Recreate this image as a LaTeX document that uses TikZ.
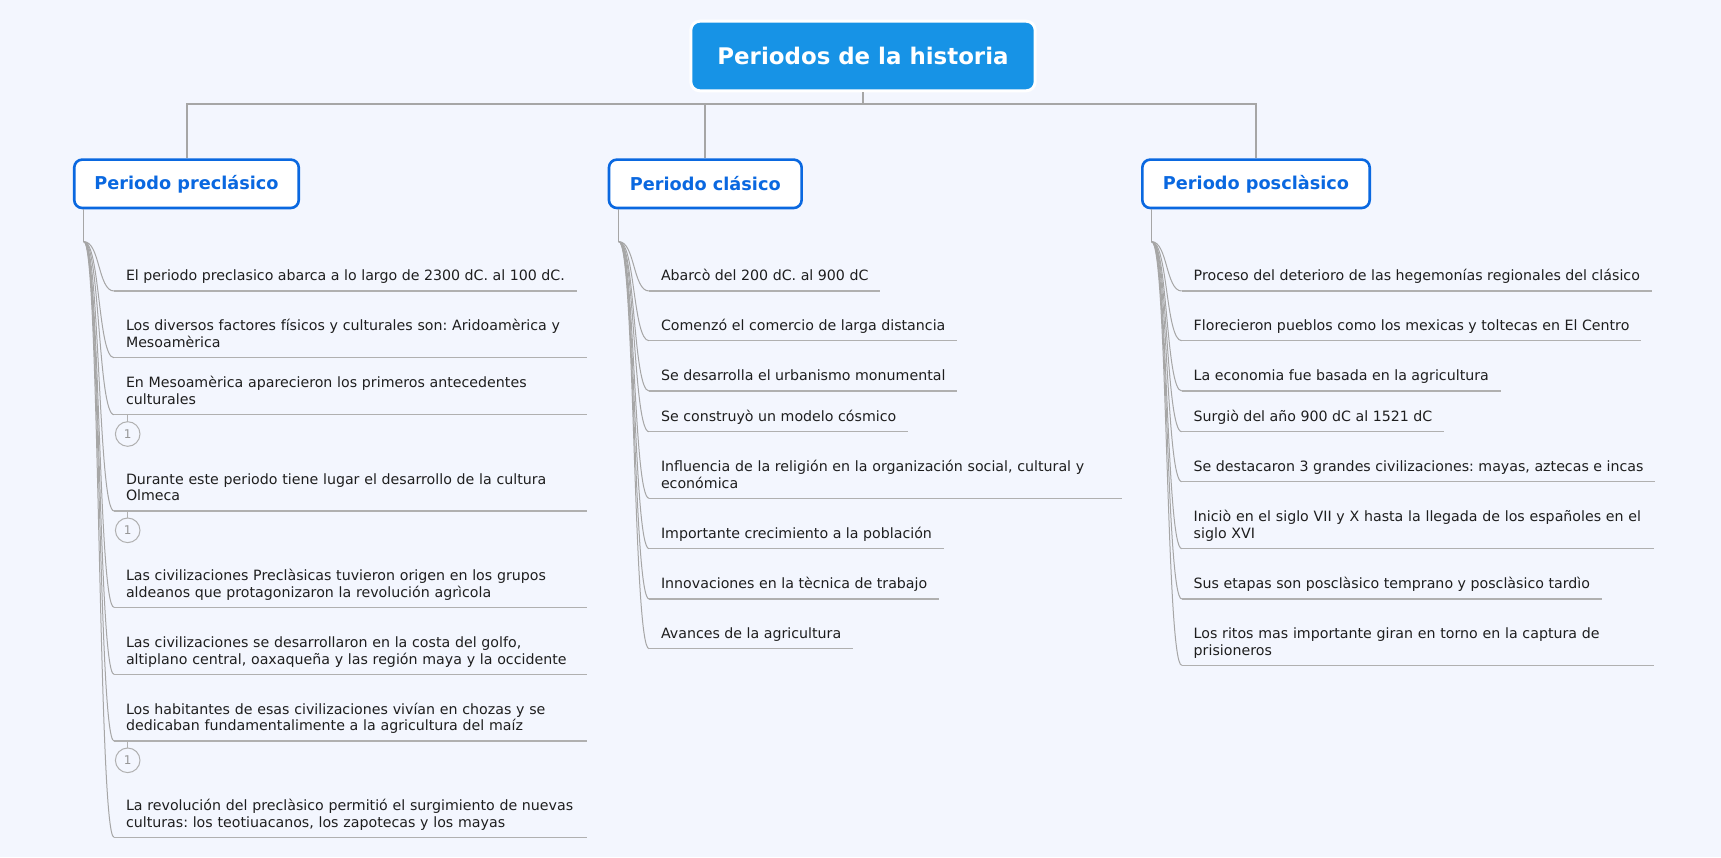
\documentclass[tikz,border=0pt]{standalone}
\usepackage{fontspec}
\setmainfont{DejaVu Sans}
\usetikzlibrary{calc}
\frenchspacing
\definecolor{bg}{RGB}{243,246,254}
\definecolor{titlefill}{RGB}{23,147,230}
\definecolor{boxblue}{RGB}{10,104,224}
\definecolor{conn}{RGB}{166,166,166}
\definecolor{leafline}{RGB}{176,176,176}
\definecolor{leaftext}{RGB}{30,30,30}
\definecolor{badgegray}{RGB}{150,150,150}
\newcommand\leafstrut{\rule[-10.3pt]{0pt}{10.3pt}}
\begin{document}
\begin{tikzpicture}[x=1pt,y=-1pt,
  titlebox/.style={fill=titlefill, draw=white, line width=3pt, rounded corners=9pt,
    minimum width=344.4pt, minimum height=69.6pt, inner sep=0pt, text=white,
    font=\fontsize{22.9}{26}\selectfont\bfseries},
  periodbox/.style={fill=white, draw=boxblue, line width=2.6pt, rounded corners=8pt,
    minimum height=48.4pt, inner sep=0pt, text=boxblue,
    font=\fontsize{17.7}{20}\selectfont\bfseries},
  mainconn/.style={draw=conn, line width=2pt},
  branch/.style={draw=conn, line width=1pt},
  leaf/.style={anchor=south west, inner xsep=12pt, inner ysep=0pt, outer sep=0pt,
    text=leaftext, font=\fontsize{14.2}{16.5}\selectfont, align=left,
    execute at end node=\leafstrut},
  wide/.style={text width=448.5pt},
  uline/.style={draw=leafline, line width=1.3pt},
  badge/.style={circle, draw=leafline, line width=1pt, minimum size=24.6pt, inner sep=0pt,
    outer sep=0pt, text=badgegray, font=\fontsize{12}{12}\selectfont},
  stem/.style={draw=leafline, line width=1pt}
]
\fill[bg] (0,0) rectangle (1721,857);
\useasboundingbox (0,0) rectangle (1721,857);

% title and periods
\node[titlebox] (title) at (863,56) {Periodos de la historia};
\node[periodbox, minimum width=224.5pt] (pre) at (186.5,183.8) {Periodo preclásico};
\node[periodbox, minimum width=192.7pt] (clas) at (705.3,183.8) {Periodo clásico};
\node[periodbox, minimum width=227.4pt] (pos) at (1256,183.8) {Periodo posclàsico};

\coordinate (hubline) at (0,104);
\draw[mainconn] (title.south) -- (title.south |- hubline) coordinate (hub);
\draw[mainconn] (hub) -| (pre.north);
\draw[mainconn] (hub) -| (clas.north);
\draw[mainconn] (hub) -| (pos.north);

% trunks
\draw[branch] ($(pre.south west)+(11,0)$) -- ++(0,32.4) coordinate (preT);
\draw[branch] ($(clas.south west)+(11.3,0)$) -- ++(0,32.4) coordinate (clasT);
\draw[branch] ($(pos.south west)+(10.7,0)$) -- ++(0,32.4) coordinate (posT);

% preclasico leaves
\node[leaf] (p1) at (114,291) {El periodo preclasico abarca a lo largo de 2300 dC. al 100 dC.};
\node[leaf,wide] (p2) at (114,357.7) {\mbox{Los diversos factores físicos y culturales son: Aridoamèrica y}\\Mesoamèrica};
\node[leaf,wide] (p3) at (114,414.7) {\mbox{En Mesoamèrica aparecieron los primeros antecedentes}\\culturales};
\node[leaf,wide] (p4) at (114,511) {\mbox{Durante este periodo tiene lugar el desarrollo de la cultura}\\Olmeca};
\node[leaf,wide] (p5) at (114,607.3) {\mbox{Las civilizaciones Preclàsicas tuvieron origen en los grupos}\\\mbox{aldeanos que protagonizaron la revolución agrìcola}};
\node[leaf,wide] (p6) at (114,674.3) {\mbox{Las civilizaciones se desarrollaron en la costa del golfo,}\\\mbox{altiplano central, oaxaqueña y las región maya y la occidente}};
\node[leaf,wide] (p7) at (114,741) {\mbox{Los habitantes de esas civilizaciones vivían en chozas y se}\\\mbox{dedicaban fundamentalimente a la agricultura del maíz}};
\node[leaf,wide] (p8) at (114,837.3) {\mbox{La revolución del preclàsico permitió el surgimiento de nuevas}\\\mbox{culturas: los teotiuacanos, los zapotecas y los mayas}};

\foreach \n in {p1,p2,p3,p4,p5,p6,p7,p8}{
  \draw[branch] (preT) .. controls +(16,0) and +(-16,0) .. (\n.south west);
  \draw[uline] (\n.south west) -- (\n.south east);
}

% badges
\foreach \n/\k in {p3/k1,p4/k2,p7/k3}{
  \node[badge] (\k) at ($(\n.south west)+(13.7,19.3)$) {1};
  \draw[stem] (\k.north) -- (\k.north |- \n.south);
}

% clasico leaves
\node[leaf] (c1) at (649,291) {Abarcò del 200 dC. al 900 dC};
\node[leaf] (c2) at (649,340.7) {Comenzó el comercio de larga distancia};
\node[leaf] (c3) at (649,391) {Se desarrolla el urbanismo monumental};
\node[leaf] (c4) at (649,431.7) {Se construyò un modelo cósmico};
\node[leaf,wide] (c5) at (649,498.3) {\mbox{Influencia de la religión en la organización social, cultural y}\\económica};
\node[leaf] (c6) at (649,548.7) {Importante crecimiento a la población};
\node[leaf] (c7) at (649,599) {Innovaciones en la tècnica de trabajo};
\node[leaf] (c8) at (649,648.7) {Avances de la agricultura};

\foreach \n in {c1,c2,c3,c4,c5,c6,c7,c8}{
  \draw[branch] (clasT) .. controls +(16,0) and +(-16,0) .. (\n.south west);
  \draw[uline] (\n.south west) -- (\n.south east);
}

% posclasico leaves
\node[leaf] (q1) at (1181.7,291) {Proceso del deterioro de las hegemonías regionales del clásico};
\node[leaf] (q2) at (1181.7,340.7) {Florecieron pueblos como los mexicas y toltecas en El Centro};
\node[leaf] (q3) at (1181.7,391) {La economia fue basada en la agricultura};
\node[leaf] (q4) at (1181.7,431.7) {Surgiò del año 900 dC al 1521 dC};
\node[leaf] (q5) at (1181.7,481.7) {Se destacaron 3 grandes civilizaciones: mayas, aztecas e incas};
\node[leaf,wide] (q6) at (1181.7,548.7) {\mbox{Iniciò en el siglo VII y X hasta la llegada de los españoles en el}\\siglo XVI};
\node[leaf] (q7) at (1181.7,599) {Sus etapas son posclàsico temprano y posclàsico tardìo};
\node[leaf,wide] (q8) at (1181.7,665.3) {\mbox{Los ritos mas importante giran en torno en la captura de}\\prisioneros};

\foreach \n in {q1,q2,q3,q4,q5,q6,q7,q8}{
  \draw[branch] (posT) .. controls +(16,0) and +(-16,0) .. (\n.south west);
  \draw[uline] (\n.south west) -- (\n.south east);
}
\end{tikzpicture}
\end{document}
